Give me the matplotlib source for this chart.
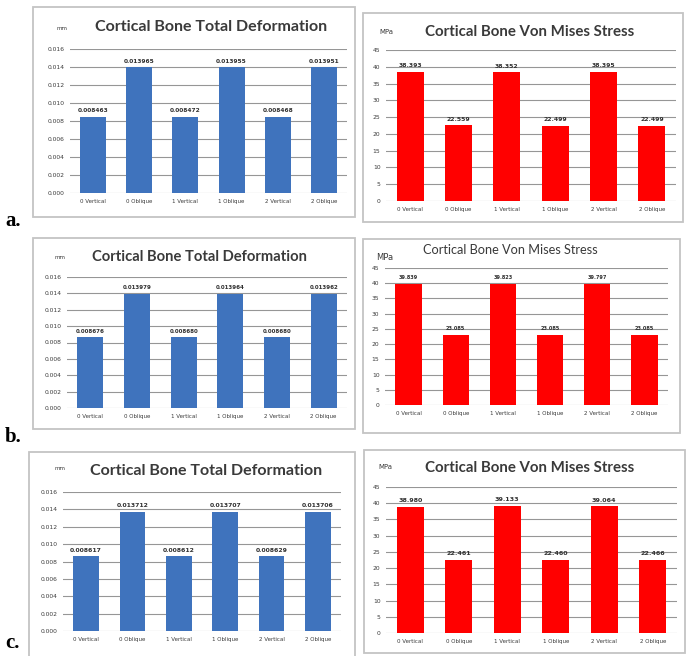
import matplotlib
matplotlib.use("Agg")
import matplotlib.pyplot as plt
from matplotlib.patches import Rectangle

# --- data ---
categories = ["0 Vertical", "0 Oblique", "1 Vertical", "1 Oblique", "2 Vertical", "2 Oblique"]

def_a = [0.008463, 0.013965, 0.008472, 0.013955, 0.008468, 0.013951]
def_b = [0.008676, 0.013979, 0.008680, 0.013964, 0.008680, 0.013962]
def_c = [0.008617, 0.013712, 0.008612, 0.013707, 0.008629, 0.013706]

vm_a = [38.393, 22.559, 38.352, 22.499, 38.395, 22.499]
vm_b = [39.839, 23.085, 39.823, 23.085, 39.797, 23.085]
vm_c = [38.980, 22.461, 39.133, 22.460, 39.064, 22.466]

def_ticks = [0.000, 0.002, 0.004, 0.006, 0.008, 0.010, 0.012, 0.014, 0.016]
vm_ticks = [0, 5, 10, 15, 20, 25, 30, 35, 40, 45]

W, H = 686, 656
BLUE = "#3f73bd"
RED = "#ff0000"
GRID = "#969696"
TXT = "#3a3a3a"

fig = plt.figure(figsize=(W / 100, H / 100), dpi=100)
fig.patch.set_facecolor("white")


def fx(x):
    return x / W


def fy(y):
    return 1 - y / H


def frame(x0, y0, x1, y1):
    # grey border box around each chart (drawn below the axes)
    fig.patches.append(Rectangle((fx(x0), fy(y1)), fx(x1 - x0), (y1 - y0) / H,
                                 transform=fig.transFigure, facecolor="white",
                                 edgecolor="#c4c4c4", lw=1.3, zorder=-5))


def panel(box, values, color, ticks, tickfmt, valfmt, valsize):
    x0, y0, x1, y1 = box
    ax = fig.add_axes([fx(x0), fy(y1), fx(x1 - x0), (y1 - y0) / H])
    ax.set_facecolor("none")
    xs = range(len(values))
    ax.bar(xs, values, width=0.56, color=color, zorder=3)
    ax.set_xlim(-0.5, len(values) - 0.5)
    ax.set_ylim(ticks[0], ticks[-1])
    ax.set_yticks(ticks)
    ax.set_yticklabels([tickfmt.format(t) for t in ticks], fontsize=4.3, color=TXT)
    ax.set_xticks(list(xs))
    ax.set_xticklabels(categories, fontsize=4.0, color=TXT)
    ax.tick_params(length=0, pad=4)
    ax.yaxis.grid(True, color=GRID, lw=0.8)
    ax.set_axisbelow(True)
    for s in ax.spines.values():
        s.set_visible(False)
    off = (ticks[-1] - ticks[0]) * 0.025
    for x, v in zip(xs, values):
        ax.text(x, v + off, valfmt.format(v), ha="center", va="bottom",
                fontsize=valsize, fontweight="bold", color="#303030")
    return ax


# panel frames
frame(33, 7, 355, 217)
frame(363, 13, 683, 222)
frame(33, 238, 355, 429)
frame(363, 239, 680, 433)
frame(29, 452, 355, 662)
frame(364, 450, 685, 653)

# row a
panel((70, 49, 347, 193), def_a, BLUE, def_ticks, "{:.3f}", "{:.6f}", 4.2)
panel((386, 50, 676, 201), vm_a, RED, vm_ticks, "{:d}", "{:.3f}", 4.4)
# row b
panel((67, 277, 347, 408), def_b, BLUE, def_ticks, "{:.3f}", "{:.6f}", 4.0)
panel((385, 268, 668, 405), vm_b, RED, vm_ticks, "{:d}", "{:.3f}", 3.6)
# row c
panel((63, 492, 341, 631), def_c, BLUE, def_ticks, "{:.3f}", "{:.6f}", 4.4)
panel((386, 487, 677, 633), vm_c, RED, vm_ticks, "{:d}", "{:.3f}", 4.6)

# titles and units
title_kw = dict(family="Lato", fontweight="bold", color=TXT, ha="center", va="center")
fig.text(fx(211), fy(27), "Cortical Bone Total Deformation", fontsize=11.5, **title_kw)
fig.text(fx(530), fy(32), "Cortical Bone Von Mises Stress", fontsize=10.8, **title_kw)
fig.text(fx(200), fy(257), "Cortical Bone Total Deformation", fontsize=10.6, **title_kw)
fig.text(fx(510), fy(250), "Cortical Bone Von Mises Stress", fontsize=9.2,
         family="Lato", color=TXT, ha="center", va="center")
fig.text(fx(206), fy(471), "Cortical Bone Total Deformation", fontsize=11.5, **title_kw)
fig.text(fx(530), fy(468), "Cortical Bone Von Mises Stress", fontsize=10.8, **title_kw)

unit_kw = dict(color=TXT, ha="center", va="center")
fig.text(fx(62), fy(29), "mm", fontsize=4, **unit_kw)
fig.text(fx(386), fy(32), "MPa", fontsize=5, **unit_kw)
fig.text(fx(60), fy(257), "mm", fontsize=4, **unit_kw)
fig.text(fx(385), fy(258), "MPa", fontsize=6, **unit_kw)
fig.text(fx(60), fy(469), "mm", fontsize=4, **unit_kw)
fig.text(fx(385), fy(467), "MPa", fontsize=5, **unit_kw)

# row letters
lab_kw = dict(family="Liberation Serif", fontweight="bold", fontsize=15,
              color="black", ha="left", va="baseline")
fig.text(fx(5), fy(226), "a.", **lab_kw)
fig.text(fx(5), fy(442), "b.", **lab_kw)
fig.text(fx(5), fy(648), "c.", **lab_kw)

fig.savefig("out.png", dpi=100, facecolor="white")
